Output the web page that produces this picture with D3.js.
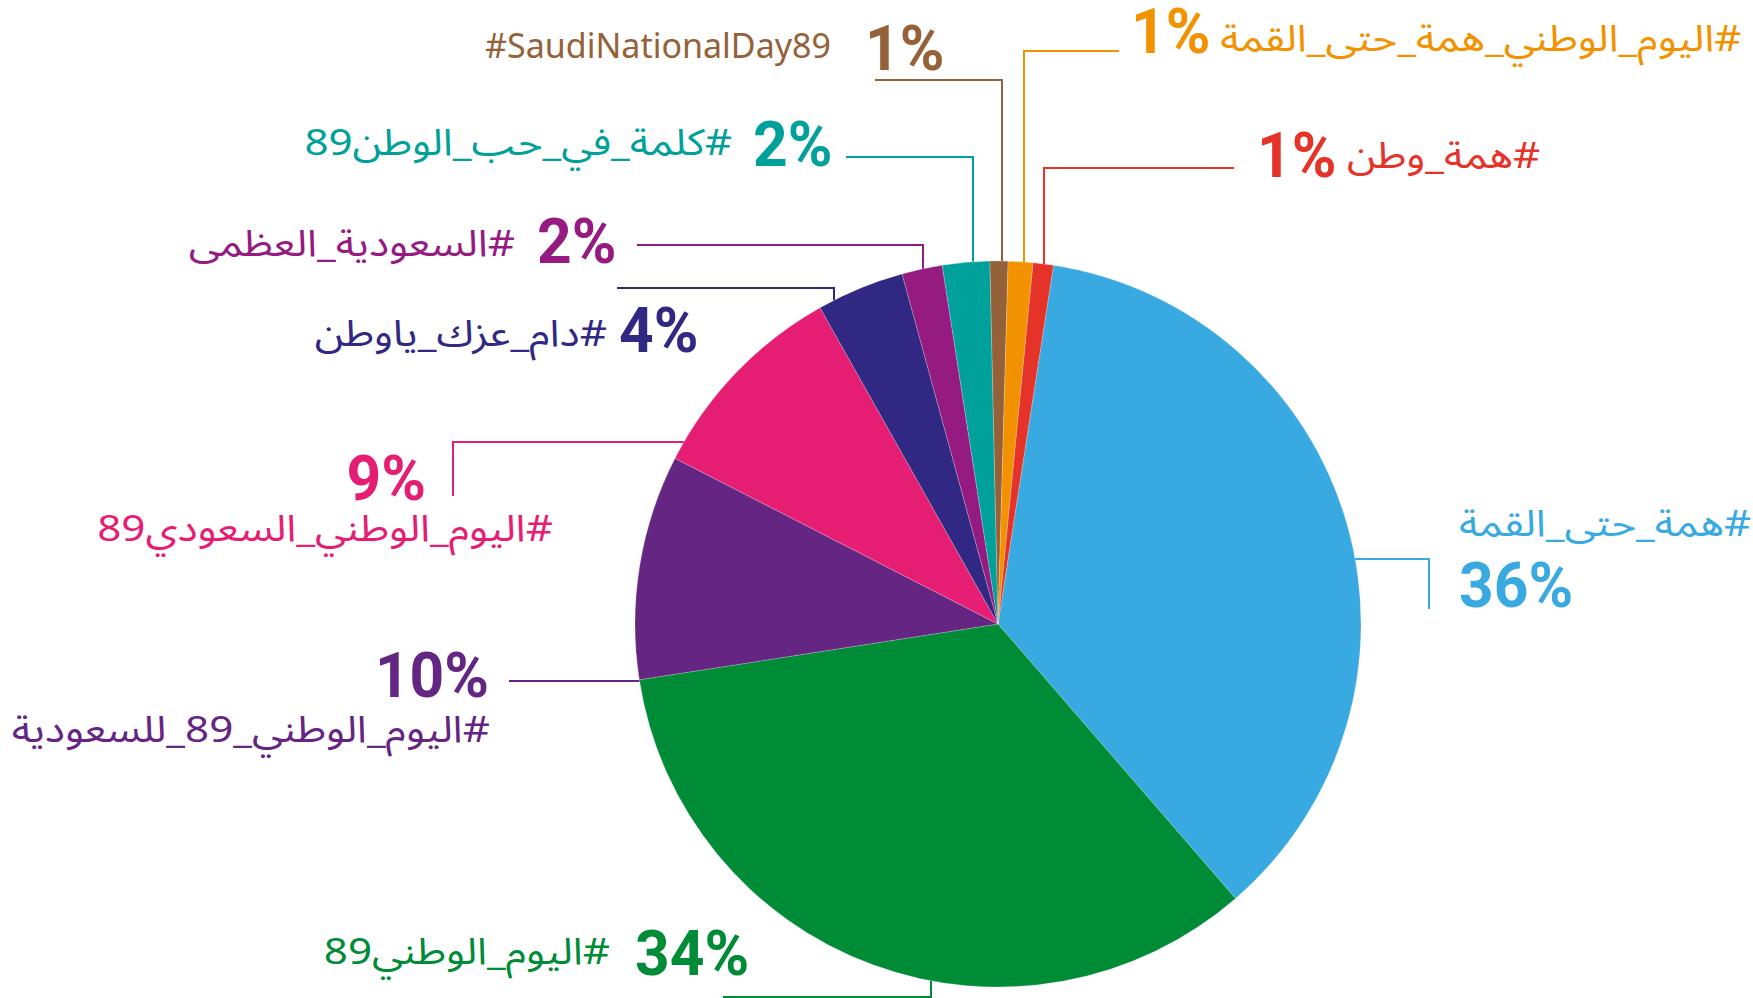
<!DOCTYPE html>
<html>
<head>
<meta charset="utf-8">
<script src="https://cdn.jsdelivr.net/npm/d3@7"></script>
<style>
  html, body { margin: 0; padding: 0; background: #ffffff; }
  svg { display: block; }
</style>
</head>
<body>
<svg id="chart" width="1753" height="998"></svg>
<script>
// ---- data ----
const names = [
  "#همة_حتى_القمة",
  "#اليوم_الوطني89",
  "#اليوم_الوطني_89_للسعودية",
  "#اليوم_الوطني_السعودي89",
  "#دام_عزك_ياوطن",
  "#السعودية_العظمى",
  "#كلمة_في_حب_الوطن89",
  "#SaudiNationalDay89",
  "#اليوم_الوطني_همة_حتى_القمة",
  "#همة_وطن"
];
const values = [36.2, 33.9, 10.0, 9.3, 3.9, 1.8, 2.1, 0.8, 1.1, 0.9];
const colors = ["#38a9e1", "#008b37", "#652582", "#e61e73", "#312883", "#951b81", "#00a19a", "#956139", "#f39200", "#e6332a"];
const percentLabels = values.map(v => Math.round(v) + "%");

// ---- layout ----
const W = 1753, H = 998;
const cx = 998, cy = 624, R = 363;
const startDeg = 8.8;

// label layout per slice: leader attach on the rim, leader bends, text anchors
const layout = [
  { attach: {y: 559, side: "right"}, path: [[1429, 559], [1429, 609]],
    pct: {x: 1459, y: 607, align: "left"}, name: {x: 1459, y: 536, align: "left"} },
  { attach: {x: 931, side: "bottom"}, path: [[931, 997], [723, 997]],
    pct: {x: 635, y: 975, align: "left"}, name: {x: 610, y: 964, align: "right"} },
  { attach: {y: 681, side: "left"}, path: [[509, 681]],
    pct: {x: 489, y: 697, align: "right"}, name: {x: 490, y: 742, align: "right"} },
  { attach: {y: 442, side: "left"}, path: [[453, 442], [453, 496]],
    pct: {x: 426, y: 500, align: "right"}, name: {x: 553, y: 541, align: "right"} },
  { attach: {x: 834, side: "top"}, path: [[834, 288], [617, 288]],
    pct: {x: 619, y: 352, align: "left"}, name: {x: 607, y: 346, align: "right"} },
  { attach: {x: 923, side: "top"}, path: [[923, 245], [637, 245]],
    pct: {x: 537, y: 263, align: "left"}, name: {x: 515, y: 256, align: "right"} },
  { attach: {x: 973, side: "top"}, path: [[973, 157], [846, 157]],
    pct: {x: 753, y: 166, align: "left"}, name: {x: 732, y: 155, align: "right"} },
  { attach: {x: 1002, side: "top"}, path: [[1002, 80], [875, 80]],
    pct: {x: 865, y: 70, align: "left"}, name: {x: 831, y: 58, align: "right"} },
  { attach: {x: 1024, side: "top"}, path: [[1024, 51], [1119, 51]],
    pct: {x: 1131, y: 53, align: "left"}, name: {x: 1220, y: 51, align: "left"} },
  { attach: {x: 1044, side: "top"}, path: [[1044, 168], [1234, 168]],
    pct: {x: 1257, y: 177, align: "left"}, name: {x: 1347, y: 168, align: "left"} }
];

const svg = d3.select("#chart");

const pie = d3.pie()
  .sort(null)
  .value(d => d)
  .startAngle(startDeg * Math.PI / 180)
  .endAngle(startDeg * Math.PI / 180 + 2 * Math.PI);

const arc = d3.arc().innerRadius(0).outerRadius(R);
const arcs = pie(values);

const g = svg.append("g").attr("transform", `translate(${cx},${cy})`);
g.selectAll("path.slice")
  .data(arcs)
  .join("path")
  .attr("class", "slice")
  .attr("d", arc)
  .attr("fill", (d, i) => colors[i])
  .attr("stroke", "#ffffff")
  .attr("stroke-opacity", 0.35)
  .attr("stroke-width", 0.6);

// rim point for a leader
function rimPoint(a) {
  if (a.x !== undefined) {
    const dy = Math.sqrt(R * R - (a.x - cx) * (a.x - cx));
    return [a.x, a.side === "top" ? cy - dy : cy + dy];
  } else {
    const dx = Math.sqrt(R * R - (a.y - cy) * (a.y - cy));
    return [a.side === "right" ? cx + dx : cx - dx, a.y];
  }
}

const line = d3.line();
const leaders = svg.append("g");
layout.forEach((L, i) => {
  const pts = [rimPoint(L.attach)].concat(L.path);
  leaders.append("path")
    .attr("d", line(pts))
    .attr("fill", "none")
    .attr("stroke", colors[i])
    .attr("stroke-width", 2);
});

const labels = svg.append("g");
// place a text so that its left or right edge sits at spec.x, stretched horizontally by k
function place(sel, spec, k) {
  sel.attr("x", 0).attr("y", spec.y).attr("text-anchor", "middle");
  const bb = sel.node().getBBox();
  const edge = spec.align === "left" ? bb.x : bb.x + bb.width;
  // x' = spec.x + k * (x - edge)
  sel.attr("transform", `translate(${spec.x},0) scale(${k},1) translate(${-edge},0)`);
}

layout.forEach((L, i) => {
  const p = labels.append("text")
    .text(percentLabels[i])
    .attr("fill", colors[i])
    .style("font-family", "Roboto, 'Open Sans', sans-serif")
    .style("font-weight", 700)
    .style("font-size", "63px");
  place(p, L.pct, 0.96);

  const isArabic = /[\u0600-\u06FF]/.test(names[i]);
  const n = labels.append("text")
    .text(names[i])
    .attr("fill", colors[i])
    .attr("direction", isArabic ? "rtl" : "ltr")
    .style("font-family", isArabic ? "'Noto Sans Arabic', 'Noto Sans', 'DejaVu Sans', sans-serif" : "'Noto Sans', Roboto, sans-serif")
    .style("font-size", isArabic ? "37px" : "34px");
  place(n, L.name, isArabic ? 1.14 : 1.0);
});
</script>
</body>
</html>
